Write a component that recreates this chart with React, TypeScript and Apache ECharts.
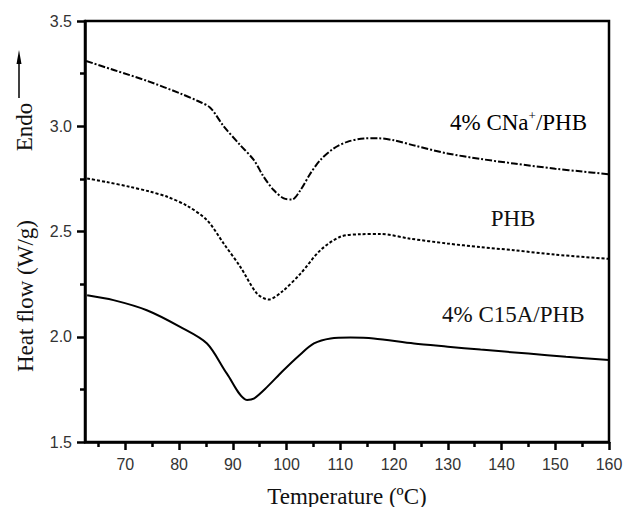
import React, { useEffect, useRef } from "react";
import * as echarts from "echarts";

// Temperature (°C) and heat flow (W/g)
const tempCNa = [62.7, 68, 74.1, 80.2, 83.5, 85.8, 88.3, 91.4, 93.9, 95.75, 97.6, 99.5, 101.0, 102.6, 104.45, 106.3, 108.8, 111.3, 114.4, 117.0, 120, 124, 129.9, 136, 142.3, 150, 155, 160];
const heatCNa = [3.31, 3.266, 3.215, 3.156, 3.12, 3.088, 3.0, 2.91, 2.84, 2.76, 2.697, 2.657, 2.652, 2.697, 2.776, 2.84, 2.895, 2.926, 2.942, 2.943, 2.933, 2.907, 2.871, 2.845, 2.823, 2.798, 2.785, 2.772];

const tempPHB = [62.9, 66.5, 70.9, 74.5, 77.8, 81.5, 85.2, 88.3, 91.4, 94.5, 96.7, 99.2, 102.6, 106.3, 110.0, 113.8, 117.5, 123, 129.9, 136, 142.3, 150, 160];
const heatPHB = [2.752, 2.735, 2.712, 2.69, 2.665, 2.622, 2.554, 2.443, 2.332, 2.205, 2.177, 2.215, 2.30, 2.411, 2.475, 2.487, 2.488, 2.466, 2.443, 2.426, 2.411, 2.39, 2.37];

const tempC15A = [62.9, 67.8, 74.0, 80.2, 85.2, 88.9, 92.65, 93.9, 96.4, 99.2, 102.3, 105.1, 108.2, 111.9, 116.2, 123.7, 130, 136.1, 145, 152, 160];
const heatC15A = [2.197, 2.174, 2.126, 2.047, 1.968, 1.825, 1.70, 1.706, 1.762, 1.835, 1.91, 1.968, 1.992, 1.996, 1.992, 1.968, 1.953, 1.939, 1.92, 1.905, 1.89];

const xMajorTicks = [70, 80, 90, 100, 110, 120, 130, 140, 150, 160];
const xMinorTicks = [65, 75, 85, 95, 105, 115, 125, 135, 145, 155];
const seriesNames = ["4% CNa+/PHB", "PHB", "4% C15A/PHB"];

const SERIF = "'Liberation Serif', 'Times New Roman', serif";
const SANS = "'Liberation Sans', Arial, sans-serif";

const zip = (xs: number[], ys: number[]) => xs.map((x, i) => [x, ys[i]]);

export default function App() {
  const ref = useRef<HTMLDivElement>(null);
  useEffect(() => {
    if (!ref.current) return;
    const chart = echarts.init(ref.current, undefined, { renderer: "svg" });
    const X_MIN = 62.5;
    const X_MAX = 160;
    const AX = { color: "#000", width: 2.5 };
    chart.setOption({
      animation: false,
      backgroundColor: "#fff",
      grid: { left: 85, right: 22, top: 21, bottom: 65, containLabel: false, show: true, borderColor: "#000", borderWidth: 2.5, backgroundColor: "transparent" },
      xAxis: [
        {
          type: "value",
          position: "bottom",
          min: X_MIN,
          max: X_MAX,
          axisLine: { show: true, onZero: false, lineStyle: AX },
          splitLine: { show: false },
          axisTick: { show: true, inside: false, length: 8, customValues: xMajorTicks, lineStyle: AX },
          axisLabel: { show: true, customValues: xMajorTicks, margin: 14, fontFamily: SANS, fontSize: 16, color: "#333" },
        },
        {
          type: "value",
          position: "bottom",
          min: X_MIN,
          max: X_MAX,
          axisLine: { show: false, onZero: false },
          splitLine: { show: false },
          axisTick: { show: true, inside: false, length: 5, customValues: xMinorTicks, lineStyle: AX },
          axisLabel: { show: false },
        },
      ],
      yAxis: [
        {
          type: "value",
          position: "left",
          min: 1.5,
          max: 3.5,
          interval: 0.5,
          axisLine: { show: true, onZero: false, lineStyle: AX },
          splitLine: { show: false },
          axisTick: { show: true, inside: false, length: 8, lineStyle: AX },
          minorTick: { show: true, splitNumber: 2, length: 5, lineStyle: AX },
          minorSplitLine: { show: false },
          axisLabel: { margin: 13, fontFamily: SANS, fontSize: 16, color: "#333", formatter: (v: number) => v.toFixed(1) },
        },
      ],
      series: [
        {
          name: seriesNames[0],
          type: "line",
          data: zip(tempCNa, heatCNa),
          smooth: 0.3,
          showSymbol: false,
          lineStyle: { color: "#000", width: 2, type: [7, 2, 2, 2] },
        },
        {
          name: seriesNames[1],
          type: "line",
          data: zip(tempPHB, heatPHB),
          smooth: 0.3,
          showSymbol: false,
          lineStyle: { color: "#000", width: 2, type: [3, 2] },
        },
        {
          name: seriesNames[2],
          type: "line",
          data: zip(tempC15A, heatC15A),
          smooth: 0.3,
          showSymbol: false,
          lineStyle: { color: "#000", width: 2, type: "solid" },
        },
      ],
      graphic: [
        {
          type: "text",
          x: 450,
          y: 122,
          style: {
            text: "{a|4% CNa}{s|+}{a|/PHB}",
            textAlign: "left",
            textVerticalAlign: "middle",
            rich: {
              a: { fontFamily: SERIF, fontSize: 23, color: "#111", lineHeight: 26 },
              s: { fontFamily: SERIF, fontSize: 13, color: "#111", verticalAlign: "top", lineHeight: 14 },
            },
          },
        },
        {
          type: "text",
          x: 513,
          y: 218,
          style: { text: "PHB", fontFamily: SERIF, fontSize: 23, fill: "#111", textAlign: "center", textVerticalAlign: "middle" },
        },
        {
          type: "text",
          x: 442,
          y: 314,
          style: { text: "4% C15A/PHB", fontFamily: SERIF, fontSize: 23, fill: "#111", textAlign: "left", textVerticalAlign: "middle" },
        },
        {
          type: "text",
          x: 347,
          y: 496,
          style: { text: "Temperature (ºC)", fontFamily: SERIF, fontSize: 23, fill: "#111", textAlign: "center", textVerticalAlign: "middle" },
        },
        {
          type: "text",
          x: 25,
          y: 296,
          rotation: Math.PI / 2,
          style: { text: "Heat flow (W/g)", fontFamily: SERIF, fontSize: 23, fill: "#111", textAlign: "center", textVerticalAlign: "middle" },
        },
        {
          type: "text",
          x: 24,
          y: 127,
          rotation: Math.PI / 2,
          style: { text: "Endo", fontFamily: SERIF, fontSize: 23, fill: "#111", textAlign: "center", textVerticalAlign: "middle" },
        },
        {
          type: "line",
          shape: { x1: 19, y1: 98, x2: 19, y2: 62 },
          style: { stroke: "#000", lineWidth: 1.5 },
        },
        {
          type: "polygon",
          shape: { points: [[19, 50], [16.5, 64], [21.5, 64]] },
          style: { fill: "#000" },
        },
      ],
    });
    return () => chart.dispose();
  }, []);
  return <div ref={ref} style={{ position: "fixed", left: 0, top: 0, width: 631, height: 507 }} />;
}
